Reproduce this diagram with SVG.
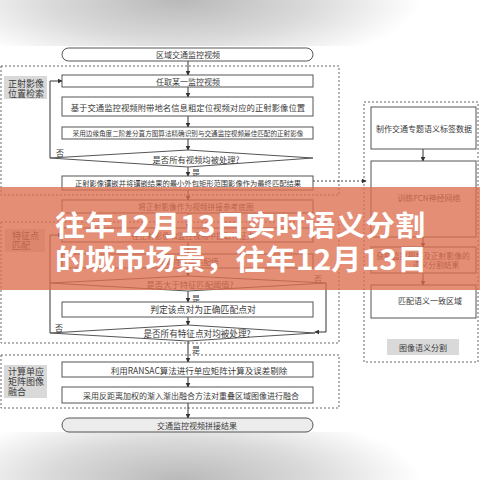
<svg xmlns="http://www.w3.org/2000/svg" width="480" height="480" viewBox="0 0 480 480">
<defs>
<radialGradient id="gTop" gradientUnits="userSpaceOnUse" cx="0" cy="0" r="240" gradientTransform="translate(180,0) scale(1,0.3)">
<stop offset="0" stop-color="#b9b9b9"/><stop offset="0.55" stop-color="#dadada"/><stop offset="1" stop-color="#ffffff"/>
</radialGradient>
<radialGradient id="gBot" gradientUnits="userSpaceOnUse" cx="0" cy="0" r="240" gradientTransform="translate(180,480) scale(1,0.3)">
<stop offset="0" stop-color="#b9b9b9"/><stop offset="0.55" stop-color="#dadada"/><stop offset="1" stop-color="#ffffff"/>
</radialGradient>
<marker id="ah" viewBox="0 0 8 8" refX="7" refY="4" markerWidth="5" markerHeight="5" orient="auto-start-reverse" markerUnits="userSpaceOnUse">
<path d="M0,0 L8,4 L0,8 z" fill="#333"/>
</marker>
<style>
.t{font-family:"Noto Sans CJK SC","Liberation Sans",sans-serif;fill:#3a3a3a;font-size:8px;text-anchor:middle;dominant-baseline:central}
.l{font-family:"Noto Sans CJK SC","Liberation Sans",sans-serif;fill:#3a3a3a;font-size:9px;dominant-baseline:central}
.b{fill:#fff;stroke:#555;stroke-width:1}
.g{fill:none;stroke:#666;stroke-width:1;stroke-dasharray:2 2}
.lab{fill:#d9d9d9}
.c{fill:none;stroke:#333;stroke-width:1}
.d{fill:none;stroke:#444;stroke-width:1;stroke-dasharray:2 2}
.big{font-family:"Noto Sans CJK SC",sans-serif;font-weight:bold;font-size:28px;fill:#fff;dominant-baseline:central}
</style>
</defs>
<rect x="0" y="0" width="480" height="480" fill="#fff"/>
<rect x="0" y="0" width="480" height="46" fill="url(#gTop)"/>
<rect x="0" y="432" width="480" height="48" fill="url(#gBot)"/>

<g id="groups">
<rect class="g" x="1" y="66" width="338" height="129"/>
<rect class="g" x="1" y="222" width="338" height="121"/>
<rect class="g" x="1" y="355" width="338" height="53"/>
<rect class="g" x="364" y="102" width="114" height="260"/>
</g>

<g id="group-labels">
<rect class="lab" x="4" y="76" width="43" height="23"/>
<text class="l" x="8" y="83">正射影像</text><text class="l" x="8" y="93">位置检索</text>
<rect class="lab" x="5" y="229" width="40" height="23"/>
<text class="l" x="12" y="235">特征点</text><text class="l" x="12" y="245">匹配</text>
<rect class="lab" x="4" y="365" width="43" height="33"/>
<text class="l" x="8" y="371">计算单应</text><text class="l" x="8" y="381">矩阵图像</text><text class="l" x="8" y="391">融合</text>
<rect class="lab" x="387" y="339" width="72" height="16"/>
<text class="t" x="423" y="347">图像语义分割</text>
</g>

<g id="connectors">
<path class="c" marker-end="url(#ah)" d="M188,61 V75"/>
<path class="c" marker-end="url(#ah)" d="M188,87 V97"/>
<path class="c" marker-end="url(#ah)" d="M188,116 V127"/>
<path class="c" marker-end="url(#ah)" d="M188,139 V150"/>
<path class="c" marker-end="url(#ah)" d="M188,167 V176"/>
<path class="c" marker-end="url(#ah)" d="M188,190 V200"/>
<path class="c" marker-end="url(#ah)" d="M188,213 V228"/>
<path class="c" marker-end="url(#ah)" d="M188,242 V254"/>
<path class="c" marker-end="url(#ah)" d="M188,268 V276"/>
<path class="c" marker-end="url(#ah)" d="M188,291 V302"/>
<path class="c" marker-end="url(#ah)" d="M188,317 V325"/>
<path class="c" marker-end="url(#ah)" d="M188,341 V362"/>
<path class="c" marker-end="url(#ah)" d="M188,377 V387"/>
<path class="c" marker-end="url(#ah)" d="M188,403 V418"/>
<path class="c" marker-end="url(#ah)" d="M50,158 V81 H62"/>
<path class="c" marker-end="url(#ah)" d="M50,333 V235 H62"/>
<path class="c" marker-end="url(#ah)" d="M326,283 V332 H315"/>
<path class="d" marker-end="url(#ah)" d="M313,181 H366"/>
<path class="c" marker-end="url(#ah)" d="M423,149 V161"/>
<path class="c" marker-end="url(#ah)" d="M423,237 V247"/>
<path class="c" marker-end="url(#ah)" d="M423,273 V285"/>
<text class="t" x="60" y="152">否</text>
<text class="t" x="196" y="172">是</text>
<text class="t" x="318" y="278">否</text>
<text class="t" x="196" y="298">是</text>
<text class="t" x="59" y="327">否</text>
<text class="t" x="196" y="349">是</text>
</g>

<g id="n-start"><rect class="b" x="62" y="48" width="251" height="13" rx="6.5"/><text class="t" x="188" y="54.5">区域交通监控视频</text></g>
<g id="n1"><rect class="b" x="62" y="75" width="251" height="12"/><text class="t" x="188" y="81">任取某一监控视频</text></g>
<g id="n2"><rect class="b" x="62" y="97" width="251" height="19"/><text class="t" x="188" y="106.5" style="font-size:8.4px">基于交通监控视频附带地名信息粗定位视频对应的正射影像位置</text></g>
<g id="n3"><rect class="b" x="62" y="127" width="251" height="12"/><text class="t" x="188" y="133" style="font-size:6.6px">采用边缘角度二阶差分直方图算法精确识别与交通监控视频最佳匹配的正射影像</text></g>
<g id="n4"><polygon class="b" points="50,158 188,150 313,158 188,167"/><text class="t" x="196" y="158.5" style="font-size:8.3px">是否所有视频均被处理?</text></g>
<g id="n5"><rect class="b" x="62" y="176" width="251" height="14"/><text class="t" x="188" y="183" style="font-size:7.3px">正射影像镶嵌并将镶嵌结果的最小外包矩形范围影像作为最终匹配结果</text></g>
<g id="n6"><rect class="b" x="62" y="200" width="251" height="13"/><text class="t" x="196" y="206.5" style="font-size:7.7px">将正射影像作为视频拼接参考底图</text></g>
<g id="n7"><rect class="b" x="62" y="228" width="251" height="14"/><text class="t" x="193" y="235" style="font-size:7.7px">在正射影像和监控视频中提取特征点</text></g>
<g id="n8"><rect class="b" x="62" y="254" width="251" height="14"/><text class="t" x="188" y="261" style="font-size:7.7px">计算特征点匹配值</text></g>
<g id="n9"><polygon class="b" points="50,283 188,276 326,283 188,291"/><text class="t" x="190" y="283.5" style="font-size:8.3px">是否大于特征匹配阈值?</text></g>
<g id="n10"><rect class="b" x="62" y="302" width="251" height="15"/><text class="t" x="203" y="309.5" style="font-size:8.8px">判定该点对为正确匹配点对</text></g>
<g id="n11"><polygon class="b" points="50,333 188,325 315,333 188,341"/><text class="t" x="197" y="333" style="font-size:8.6px">是否所有特征点对均被处理?</text></g>
<g id="n12"><rect class="b" x="62" y="362" width="251" height="15"/><text class="t" x="199" y="369.5" style="font-size:8.5px">利用RANSAC算法进行单应矩阵计算及误差剔除</text></g>
<g id="n13"><rect class="b" x="62" y="387" width="251" height="16"/><text class="t" x="191" y="395" style="font-size:8px">采用反距离加权的渐入渐出融合方法对重叠区域图像进行融合</text></g>
<g id="n-end"><rect x="62" y="418" width="251" height="14" rx="7" fill="#ececec" stroke="#555" stroke-width="1"/><text class="t" x="197" y="425">交通监控视频拼接结果</text></g>

<g id="r1"><rect class="b" x="371" y="107" width="105" height="42"/><text class="t" x="424" y="128">制作交通专题语义标签数据</text></g>
<g id="r2"><rect class="b" x="371" y="161" width="105" height="76"/><text class="t" x="429" y="197">训练FCN神经网络</text></g>
<g id="r3"><rect class="b" x="371" y="247" width="105" height="26"/><text class="t" x="423" y="255" style="font-size:7.8px">获取监控视频及正射影像的</text><text class="t" x="436" y="264" style="font-size:7.8px">语义分割结果</text></g>
<g id="r4"><rect class="b" x="371" y="285" width="105" height="33"/><text class="t" x="430" y="300.5">匹配语义一致区域</text></g>

<rect x="0" y="187" width="480" height="103" fill="#de6e50" opacity="0.78"/>
<text class="big" x="55" y="224" textLength="370" lengthAdjust="spacingAndGlyphs">往年12月13日实时语义分割</text>
<text class="big" x="55" y="258" textLength="372" lengthAdjust="spacingAndGlyphs">的城市场景，往年12月13日</text>
</svg>
